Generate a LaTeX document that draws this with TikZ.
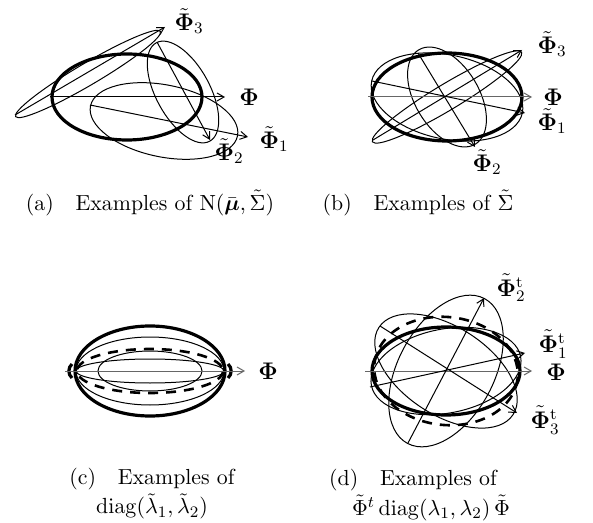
\documentclass[tikz,border=0pt]{standalone}
\usepackage{amsmath,amssymb}
\usepackage{tikz}
\usetikzlibrary{positioning,arrows.meta}
\newcommand{\Pt}{\tilde{\mathbf{\Phi}}}
\tikzset{
  ell/.style={draw=black,line width=0.5pt},
  ellb/.style={draw=black,line width=1.6pt},
  elld/.style={draw=black,line width=1.3pt,dash pattern=on 5pt off 4pt},
  ax/.style={-{Straight Barb[length=3.5pt,width=4pt]},line width=0.5pt,draw=black},
  axg/.style={ax,draw=black!60},
  lbl/.style={inner sep=1pt,font=\large},
  captxt/.style={align=center,font=\fontsize{10.9}{13.5}\selectfont,inner sep=0pt},
}
\begin{document}
\begin{tikzpicture}[x=0.5pt,y=-0.5pt]
  \useasboundingbox (0,0) rectangle (593,523);
  % (a) shifted means
  \coordinate (a0c) at (127,97);
  \coordinate (a1c) at (164,121);
  \coordinate (a2c) at (183,92);
  \coordinate (a3c) at (88,74);
  \draw[ellb] (a0c) ellipse [x radius=75,y radius=43];
  \draw[ell,rotate around={-11.5:(a1c)}] (a1c) ellipse [x radius=75,y radius=36];
  \draw[ell,rotate around={-61.5:(a2c)}] (a2c) ellipse [x radius=56,y radius=27];
  \draw[ell,rotate around={30.5:(a3c)}] (a3c) ellipse [x radius=84,y radius=11];
  \coordinate (a0s) at (50,97);   \coordinate (a0e) at (225,97);
  \coordinate (a1s) at (90,105);  \coordinate (a1e) at (248,137);
  \coordinate (a2s) at (157,42);  \coordinate (a2e) at (210,140);
  \coordinate (a3s) at (15,115);  \coordinate (a3e) at (165,27);
  \draw[ax] (a0s) -- (a0e);
  \draw[ax] (a1s) -- (a1e);
  \draw[ax] (a2s) -- (a2e);
  \draw[ax] (a3s) -- (a3e);
  \node[lbl] (a0l) at (249,97) {$\mathbf{\Phi}$};
  \node[lbl] (a1l) at (274,139) {$\Pt_1$};
  \node[lbl] (a2l) at (229,151) {$\Pt_2$};
  \node[lbl] (a3l) at (189,21) {$\Pt_3$};
  % (b) rotated about the mean
  \coordinate (b0c) at (447,97);
  \draw[ellb] (b0c) ellipse [x radius=75,y radius=44];
  \draw[ell,rotate around={-12:(b0c)}] (b0c) ellipse [x radius=77,y radius=42];
  \draw[ell,rotate around={-59:(b0c)}] (b0c) ellipse [x radius=55,y radius=32];
  \draw[ell,rotate around={31:(b0c)}] (b0c) ellipse [x radius=87,y radius=13];
  \coordinate (b0s) at (368,97);  \coordinate (b0e) at (532,97);
  \coordinate (b1s) at (372,81);  \coordinate (b1e) at (525,113);
  \coordinate (b2s) at (418,53);  \coordinate (b2e) at (475,147);
  \coordinate (b3s) at (373,140); \coordinate (b3e) at (522,50);
  \draw[axg] (b0s) -- (b0e);
  \draw[ax] (b1s) -- (b1e);
  \draw[ax] (b2s) -- (b2e);
  \draw[ax] (b3s) -- (b3e);
  \node[lbl] (b0l) at (553,97) {$\mathbf{\Phi}$};
  \node[lbl] (b1l) at (552,121) {$\Pt_1$};
  \node[lbl] (b2l) at (487,162) {$\Pt_2$};
  \node[lbl] (b3l) at (552,44) {$\Pt_3$};
  % (c) axis lengths only
  \coordinate (c0c) at (150,371);
  \draw[ellb] (c0c) ellipse [x radius=75,y radius=45];
  \draw[ell] (c0c) ellipse [x radius=74,y radius=34];
  \draw[elld] (c0c) ellipse [x radius=73,y radius=22];
  \draw[ell] (c0c) ellipse [x radius=52,y radius=20];
  \draw[ell] (c0c) ellipse [x radius=74,y radius=12];
  \draw[ellb] ([shift={(-78,-7)}]c0c) to[bend right=50] ([shift={(-78,7)}]c0c);
  \draw[ellb] ([shift={(78,-7)}]c0c) to[bend left=50] ([shift={(78,7)}]c0c);
  \coordinate (c0s) at (65,371);  \coordinate (c0e) at (245,371);
  \draw[axg] (c0s) -- (c0e);
  \node[lbl] (c0l) at (268,371) {$\mathbf{\Phi}$};
  % (d) rotations with fixed lengths
  \coordinate (d0c) at (446,371);
  \draw[ellb] (d0c) ellipse [x radius=74,y radius=44];
  \draw[elld,rotate around={-6:(d0c)}] (d0c) ellipse [x radius=72,y radius=54];
  \draw[ell,rotate around={11:(d0c)}] (d0c) ellipse [x radius=76,y radius=42];
  \draw[ell,rotate around={62:(d0c)}] (d0c) ellipse [x radius=82,y radius=48];
  \draw[ell,rotate around={-33:(d0c)}] (d0c) ellipse [x radius=80,y radius=44];
  \coordinate (d0s) at (365,371); \coordinate (d0e) at (532,371);
  \coordinate (d1s) at (370,387); \coordinate (d1e) at (525,353);
  \coordinate (d2s) at (408,443); \coordinate (d2e) at (484,298);
  \coordinate (d3s) at (380,326); \coordinate (d3e) at (517,413);
  \draw[axg] (d0s) -- (d0e);
  \draw[ax] (d1s) -- (d1e);
  \draw[ax] (d2s) -- (d2e);
  \draw[ax] (d3s) -- (d3e);
  \node[lbl] (d0l) at (556,372) {$\mathbf{\Phi}$};
  \node[lbl] (d1l) at (553,344) {$\Pt^{\mathrm{t}}_1$};
  \node[lbl] (d2l) at (511,288) {$\Pt^{\mathrm{t}}_2$};
  \node[lbl] (d3l) at (545,420) {$\Pt^{\mathrm{t}}_3$};
  % captions
  \node[captxt] (capa) at (150,203) {(a)\quad Examples of $\mathrm{N}(\bar{\boldsymbol{\mu}},\tilde{\Sigma})$};
  \node[captxt] (capb) at (418,203) {(b)\quad Examples of $\tilde{\Sigma}$};
  \node[captxt] (capc) at (152,494) {(c)\quad Examples of\\[1pt] $\mathrm{diag}(\tilde{\lambda}_1,\tilde{\lambda}_2)$};
  \node[captxt] (capd1) at (413,480) {(d)\quad Examples of};
  \node[captxt] (capd2) at (431,508) {$\tilde{\Phi}^t\,\mathrm{diag}(\lambda_1,\lambda_2)\,\tilde{\Phi}$};
\end{tikzpicture}
\end{document}
